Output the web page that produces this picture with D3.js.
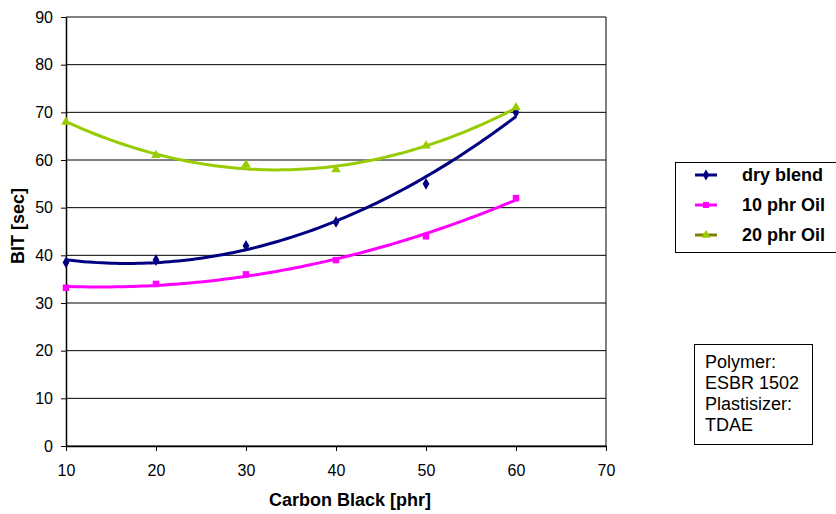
<!DOCTYPE html>
<html>
<head>
<meta charset="utf-8">
<script src="https://cdn.jsdelivr.net/npm/d3@7"></script>
<style>
  body { margin: 0; background: #fff; }
  text { font-family: "Liberation Sans", Arial, sans-serif; fill: #000; }
</style>
</head>
<body>
<div id="chart"></div>
<script>
// carbon black loading (phr)
var carbonBlack = [10, 20, 30, 40, 50, 60];
// BIT values (sec) per series
var dryBlend = [38.5, 39, 42, 47, 55, 70];
var oil10 = [33.2, 34, 36, 39, 44, 52];
var oil20 = [68, 61, 59, 58, 63, 71];

var seriesNames = ["dry blend", "10 phr Oil", "20 phr Oil"];
var xTicks = [10, 20, 30, 40, 50, 60, 70];
var yTicks = [0, 10, 20, 30, 40, 50, 60, 70, 80, 90];
var noteLines = ["Polymer:", "ESBR 1502", "Plastisizer:", "TDAE"];

var width = 836, height = 514;
var margin = { top: 17, left: 66, right: 230, bottom: 68 };

var svg = d3.select("#chart").append("svg")
  .attr("width", width)
  .attr("height", height);

var xScale = d3.scaleLinear().domain([10, 70]).range([margin.left, width - margin.right]);
var yScale = d3.scaleLinear().domain([0, 90]).range([height - margin.bottom, margin.top]);

var series = [
  { name: seriesNames[0], values: dryBlend, line: "#000080", marker: "#000080", fit: "#000080", symbol: d3.symbolDiamond },
  { name: seriesNames[1], values: oil10, line: "#ff00ff", marker: "#ff00ff", fit: "#ff00ff", symbol: d3.symbolSquare },
  { name: seriesNames[2], values: oil20, line: "#808000", marker: "#99cc00", fit: "#99cc00", symbol: d3.symbolTriangle }
];

// gridlines
svg.append("g")
  .selectAll("line")
  .data(yTicks)
  .join("line")
  .attr("x1", margin.left)
  .attr("x2", width - margin.right)
  .attr("y1", (d) => yScale(d))
  .attr("y2", (d) => yScale(d))
  .attr("stroke", "#000")
  .attr("stroke-width", 1);

// right border
svg.append("line")
  .attr("x1", xScale(70)).attr("x2", xScale(70))
  .attr("y1", yScale(0)).attr("y2", yScale(90))
  .attr("stroke", "#000");

// y axis
svg.append("g")
  .attr("transform", `translate(${margin.left},0)`)
  .call(d3.axisLeft(yScale).tickValues(yTicks).tickSize(5).tickPadding(8).tickSizeOuter(0))
  .call((g) => g.selectAll("text").style("font-size", "16px").style("font-family", "Liberation Sans, Arial, sans-serif"));

// x axis
svg.append("g")
  .attr("transform", `translate(0,${yScale(0)})`)
  .call(d3.axisBottom(xScale).tickValues(xTicks).tickSize(5).tickPadding(14).tickSizeOuter(0))
  .call((g) => g.selectAll("text").style("font-size", "16px").style("font-family", "Liberation Sans, Arial, sans-serif"));

svg.selectAll(".domain").attr("stroke", "#000").attr("stroke-width", 1.5);

// axis titles
svg.append("text")
  .attr("x", 350)
  .attr("y", 506)
  .attr("text-anchor", "middle")
  .style("font-size", "18px")
  .style("font-weight", "bold")
  .text("Carbon Black [phr]");

svg.append("text")
  .attr("transform", "translate(24,226) rotate(-90)")
  .attr("text-anchor", "middle")
  .style("font-size", "18px")
  .style("font-weight", "bold")
  .text("BIT [sec]");

// quadratic least-squares trendline, as in the spreadsheet chart
function polyFit2(xs, ys) {
  var s = [0, 0, 0, 0, 0], t = [0, 0, 0];
  xs.forEach((x, i) => {
    for (var k = 0; k < 5; k++) s[k] += Math.pow(x, k);
    for (var k = 0; k < 3; k++) t[k] += Math.pow(x, k) * ys[i];
  });
  var A = [[s[0], s[1], s[2], t[0]], [s[1], s[2], s[3], t[1]], [s[2], s[3], s[4], t[2]]];
  for (var i = 0; i < 3; i++) {
    for (var j = i + 1; j < 3; j++) {
      var f = A[j][i] / A[i][i];
      for (var k = i; k < 4; k++) A[j][k] -= f * A[i][k];
    }
  }
  var c = [0, 0, 0];
  for (var i = 2; i >= 0; i--) {
    var v = A[i][3];
    for (var k = i + 1; k < 3; k++) v -= A[i][k] * c[k];
    c[i] = v / A[i][i];
  }
  return (x) => c[0] + c[1] * x + c[2] * x * x;
}

var line = d3.line().x((d) => xScale(d[0])).y((d) => yScale(d[1]));

series.forEach((s) => {
  var f = polyFit2(carbonBlack, s.values);
  var pts = d3.range(10, 60.01, 0.5).map((x) => [x, f(x)]);
  svg.append("path")
    .attr("d", line(pts))
    .attr("fill", "none")
    .attr("stroke", s.fit)
    .attr("stroke-width", 3);
});

series.forEach((s) => {
  svg.append("g")
    .selectAll("path")
    .data(carbonBlack.map((x, i) => [x, s.values[i]]))
    .join("path")
    .attr("transform", (d) => `translate(${xScale(d[0])},${yScale(d[1])})`)
    .attr("d", d3.symbol().type(s.symbol).size(s.symbol === d3.symbolSquare ? 42 : 40))
    .attr("fill", s.marker);
});

// legend
var legend = svg.append("g");
legend.append("rect")
  .attr("x", 675.5).attr("y", 162.5)
  .attr("width", 170).attr("height", 90)
  .attr("fill", "#fff").attr("stroke", "#000");

series.forEach((s, i) => {
  var y = 175 + i * 30;
  legend.append("line")
    .attr("x1", 695).attr("x2", 717)
    .attr("y1", y).attr("y2", y)
    .attr("stroke", s.line).attr("stroke-width", 3);
  legend.append("path")
    .attr("transform", `translate(706,${y})`)
    .attr("d", d3.symbol().type(s.symbol).size(36))
    .attr("fill", s.marker);
  legend.append("text")
    .attr("x", 742).attr("y", y + 6)
    .style("font-size", "18px")
    .style("font-weight", "bold")
    .text(s.name);
});

// note box
svg.append("rect")
  .attr("x", 694.5).attr("y", 344.5)
  .attr("width", 118).attr("height", 100)
  .attr("fill", "#fff").attr("stroke", "#000");

svg.append("g")
  .selectAll("text")
  .data(noteLines)
  .join("text")
  .attr("x", 705)
  .attr("y", (d, i) => 368 + i * 21)
  .style("font-size", "18px")
  .text((d) => d);
</script>
</body>
</html>
